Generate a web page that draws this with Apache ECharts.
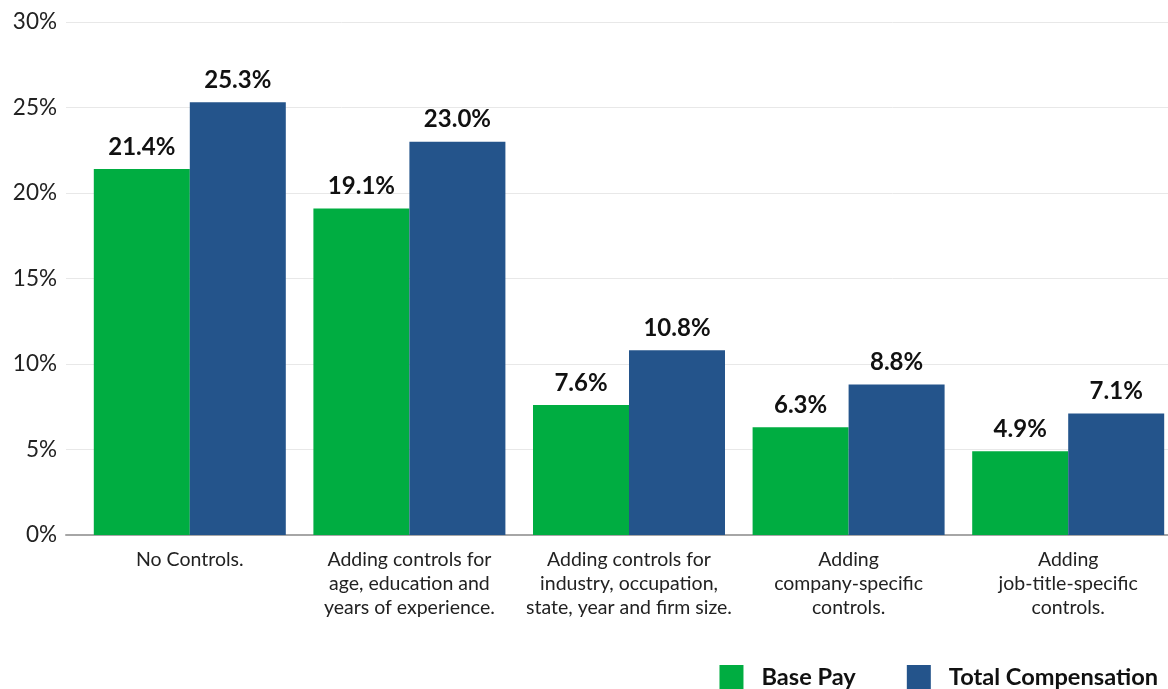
<!DOCTYPE html>
<html>
<head>
<meta charset="utf-8">
<script src="https://cdn.jsdelivr.net/npm/echarts@6/dist/echarts.min.js"></script>
<style>
  html, body { margin: 0; padding: 0; background: #fff; }
  #chart { width: 1168px; height: 689px; }
</style>
</head>
<body>
<div id="chart"></div>
<script>
// Pay gap under successive sets of controls
const categories = [
  'No Controls.',
  'Adding controls for\nage, education and\nyears of experience.',
  'Adding controls for\nindustry, occupation,\nstate, year and firm size.',
  'Adding\ncompany-specific\ncontrols.',
  'Adding\njob-title-specific\ncontrols.'
];
const basePay = [21.4, 19.1, 7.6, 6.3, 4.9];
const totalCompensation = [25.3, 23.0, 10.8, 8.8, 7.1];
const yTicks = { min: 0, max: 30, interval: 5 };

const FONT = 'Lato, "Noto Sans", sans-serif';
const GREEN = '#00ad41';
const BLUE = '#24548b';

const chart = echarts.init(document.getElementById('chart'), null, { renderer: 'canvas' });

const valueLabel = {
  show: true,
  position: 'top',
  distance: 10,
  fontFamily: FONT,
  fontSize: 24,
  fontWeight: 'bold',
  color: '#111',
  formatter: p => p.value.toFixed(1) + '%'
};

chart.setOption({
  animation: false,
  backgroundColor: '#fff',
  grid: [
    // backdrop: gridlines, value ticks and baseline
    { left: 66, right: 0, top: 22, bottom: 154, outerBoundsMode: 'none', containLabel: false },
    // bars and category labels
    { left: 80, right: -10, top: 22, bottom: 154, outerBoundsMode: 'none', containLabel: false }
  ],
  legend: {
    top: 665,
    right: 10,
    padding: 0,
    itemWidth: 24,
    itemHeight: 24,
    itemGap: 51,
    icon: 'rect',
    textStyle: {
      fontFamily: FONT,
      fontSize: 23.6,
      fontWeight: 'bold',
      color: '#111',
      padding: [0, 0, 0, 13]
    },
    data: ['Base Pay', 'Total Compensation']
  },
  xAxis: [
    {
      type: 'category',
      gridIndex: 0,
      data: [''],
      axisLine: { show: true, lineStyle: { color: '#a6a6a6', width: 2 } },
      axisTick: { show: false },
      axisLabel: { show: false },
      splitLine: { show: false }
    },
    {
      type: 'category',
      gridIndex: 1,
      data: categories,
      axisLine: { show: false },
      axisTick: { show: false },
      axisLabel: {
        interval: 0,
        margin: 13,
        fontFamily: FONT,
        fontSize: 19.5,
        lineHeight: 24,
        color: '#222'
      }
    }
  ],
  yAxis: [
    {
      type: 'value',
      gridIndex: 0,
      min: yTicks.min,
      max: yTicks.max,
      interval: yTicks.interval,
      axisLine: { show: false },
      axisTick: { show: false },
      axisLabel: {
        margin: 9,
        fontFamily: FONT,
        fontSize: 22.5,
        color: '#222',
        formatter: '{value}%'
      },
      splitLine: { show: true, lineStyle: { color: '#e8e8e8', width: 1 } }
    },
    {
      type: 'value',
      gridIndex: 1,
      min: yTicks.min,
      max: yTicks.max,
      interval: yTicks.interval,
      show: false,
      splitLine: { show: false }
    }
  ],
  series: [
    {
      name: 'Base Pay',
      type: 'bar',
      xAxisIndex: 1,
      yAxisIndex: 1,
      data: basePay,
      barWidth: 96,
      barGap: '0%',
      itemStyle: { color: GREEN },
      label: valueLabel
    },
    {
      name: 'Total Compensation',
      type: 'bar',
      xAxisIndex: 1,
      yAxisIndex: 1,
      data: totalCompensation,
      barWidth: 96,
      barGap: '0%',
      itemStyle: { color: BLUE },
      label: valueLabel
    }
  ]
});
</script>
</body>
</html>
